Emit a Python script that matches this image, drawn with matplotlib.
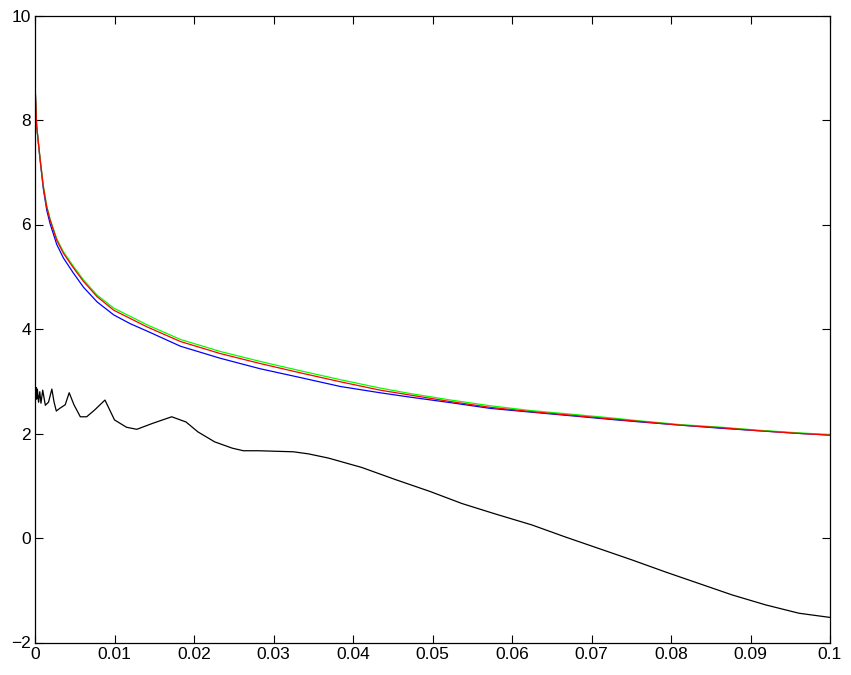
#!/usr/bin/env python3
"""
Три расчётные кривые (синяя, зелёная, красная) и чёрная кривая разности.
Стиль осей — как у MATLAB.
"""

import matplotlib
matplotlib.use("Agg")
import matplotlib.pyplot as plt

# ============================================================
# ДАННЫЕ
# ============================================================

# общая сетка по x для цветных кривых
curve_x = [0, 0.00005, 0.0002, 0.0004, 0.00063, 0.00105, 0.00147, 0.00189,
           0.00273, 0.00357, 0.00483, 0.0061, 0.0078, 0.0099, 0.012, 0.0141,
           0.0183, 0.0233, 0.0283, 0.0334, 0.0384, 0.0434, 0.047, 0.0523,
           0.0573, 0.0623, 0.0674, 0.0724, 0.0762, 0.0812, 0.0863, 0.0913,
           0.0963, 0.1]

blue_y = [9.2, 8.5, 7.9, 7.6, 7.25, 6.68, 6.28, 6.02, 5.62, 5.36, 5.07, 4.80,
          4.52, 4.27, 4.10, 3.96, 3.67, 3.44, 3.24, 3.07, 2.90, 2.78, 2.70,
          2.59, 2.48, 2.41, 2.34, 2.27, 2.22, 2.16, 2.10, 2.05, 2.00, 1.97]

green_y = [9.2, 8.5, 7.9, 7.6, 7.28, 6.74, 6.36, 6.11, 5.73, 5.48, 5.20, 4.94,
           4.65, 4.40, 4.24, 4.08, 3.80, 3.57, 3.38, 3.20, 3.03, 2.87, 2.77,
           2.64, 2.53, 2.44, 2.37, 2.30, 2.24, 2.17, 2.12, 2.06, 2.01, 1.98]

red_y = [9.2, 8.5, 7.9, 7.6, 7.27, 6.72, 6.34, 6.09, 5.70, 5.45, 5.17, 4.91,
         4.62, 4.36, 4.20, 4.04, 3.76, 3.53, 3.34, 3.16, 2.99, 2.83, 2.74,
         2.61, 2.50, 2.42, 2.35, 2.28, 2.23, 2.16, 2.11, 2.05, 2.00, 1.97]

# чёрная кривая
black_x = [0, 0.00008, 0.00015, 0.00022, 0.0003, 0.00038, 0.00045, 0.0006,
           0.00075, 0.00097, 0.0013, 0.0017, 0.00212, 0.0024, 0.00268, 0.0031,
           0.0034, 0.0038, 0.0043, 0.0049, 0.0057, 0.0065, 0.0075, 0.0088,
           0.0100, 0.0115, 0.0128, 0.0149, 0.0172, 0.0190, 0.0205, 0.0226,
           0.0248, 0.0262, 0.0281, 0.0325, 0.0344, 0.0369, 0.0411, 0.0453,
           0.0497, 0.0537, 0.0579, 0.0625, 0.0667, 0.0709, 0.0751, 0.0793,
           0.0835, 0.0877, 0.0919, 0.0961, 0.1]

black_y = [2.80, 2.65, 2.88, 2.66, 2.85, 2.70, 2.60, 2.80, 2.58, 2.83, 2.54,
           2.60, 2.85, 2.60, 2.43, 2.48, 2.51, 2.55, 2.78, 2.55, 2.32, 2.32,
           2.45, 2.64, 2.26, 2.12, 2.08, 2.20, 2.32, 2.22, 2.03, 1.84, 1.72,
           1.67, 1.67, 1.65, 1.61, 1.53, 1.35, 1.12, 0.89, 0.66, 0.46, 0.25,
           0.02, -0.20, -0.42, -0.65, -0.87, -1.09, -1.28, -1.44, -1.52]

x_ticks = [0, 0.01, 0.02, 0.03, 0.04, 0.05, 0.06, 0.07, 0.08, 0.09, 0.1]
x_tick_labels = ["0", "0.01", "0.02", "0.03", "0.04", "0.05", "0.06",
                 "0.07", "0.08", "0.09", "0.1"]
y_ticks = [-2, 0, 2, 4, 6, 8, 10]
y_tick_labels = ["\u22122", "0", "2", "4", "6", "8", "10"]

# ============================================================
# РИСУНОК
# ============================================================

plt.rcParams["font.family"] = ["Liberation Sans", "DejaVu Sans"]

fig = plt.figure(figsize=(8.51, 6.75), dpi=100)
ax = fig.add_axes([35 / 851, 32.5 / 675, 795 / 851, 627 / 675])

lw = 0.9
ax.plot(black_x, black_y, color="black", lw=lw)
ax.plot(curve_x, blue_y, color="#0000ff", lw=lw)
ax.plot(curve_x, green_y, color="#00ff00", lw=lw)
ax.plot(curve_x, red_y, color="#ff0000", lw=lw)

ax.set_xlim(0, 0.1)
ax.set_ylim(-2, 10)
ax.set_xticks(x_ticks)
ax.set_xticklabels(x_tick_labels)
ax.set_yticks(y_ticks)
ax.set_yticklabels(y_tick_labels)

# тики внутрь, со всех четырёх сторон
ax.tick_params(direction="in", length=5.5, width=0.8, labelsize=12.5,
               top=True, right=True, pad=3)
for s in ax.spines.values():
    s.set_linewidth(0.9)

fig.savefig("out.png", dpi=100)
